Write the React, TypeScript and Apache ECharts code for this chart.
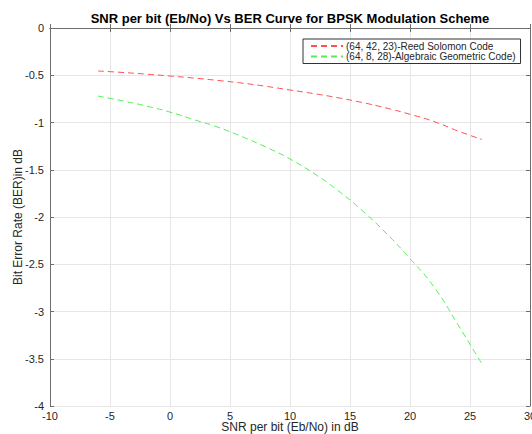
import React, { useEffect, useRef } from "react";
import * as echarts from "echarts";

const snrValues = [-6, -4, -2, 0, 2, 4, 6, 8, 10, 12, 14, 16, 18, 20, 22, 24, 26];
const reedSolomon = [-0.455, -0.47, -0.488, -0.508, -0.53, -0.555, -0.583, -0.617, -0.656, -0.695, -0.738, -0.788, -0.846, -0.913, -0.99, -1.09, -1.18];
const algebraicGeometric = [-0.72, -0.77, -0.825, -0.89, -0.97, -1.05, -1.15, -1.26, -1.386, -1.54, -1.72, -1.93, -2.17, -2.44, -2.74, -3.14, -3.556];
const seriesNames = ["(64, 42, 23)-Reed Solomon Code", "(64, 8, 28)-Algebraic Geometric Code)"];

const FONT = "'Liberation Sans', Arial, Helvetica, sans-serif";
const AXIS_COLOR = "#6e6e6e";
const TEXT_COLOR = "#262626";

export default function App() {
  const ref = useRef<HTMLDivElement>(null);
  useEffect(() => {
    if (!ref.current) return;
    const chart = echarts.init(ref.current, undefined, { renderer: "svg" });
    const pair = (ys: number[]) => snrValues.map((x, i) => [x, ys[i]]);
    chart.setOption({
      animation: false,
      textStyle: { fontFamily: FONT },
      title: {
        text: "SNR per bit (Eb/No) Vs BER Curve for BPSK Modulation Scheme",
        left: 290,
        textAlign: "center",
        top: 12,
        padding: 0,
        textStyle: { fontSize: 13, fontWeight: "bold", color: "#000", fontFamily: FONT },
      },
      legend: {
        orient: "vertical",
        left: 303,
        top: 39,
        width: 216,
        padding: [2, 5, 2, 7],
        itemGap: 0.5,
        itemWidth: 32,
        itemHeight: 10,
        borderColor: "#333",
        borderWidth: 1,
        backgroundColor: "#fff",
        itemStyle: { opacity: 0, borderWidth: 0 },
        lineStyle: { inherit: true },
        textStyle: { fontSize: 10, color: TEXT_COLOR, fontFamily: FONT, padding: [0, 0, 0, -2] },
        data: seriesNames,
      },
      grid: { left: 50, right: 2, top: 28, bottom: 28, containLabel: false, outerBoundsMode: "none" },
      xAxis: [
        {
          type: "value",
          min: -10,
          max: 30,
          interval: 5,
          name: "SNR per bit (Eb/No) in dB",
          nameLocation: "middle",
          nameGap: 15,
          nameMoveOverlap: false,
          nameTextStyle: { fontSize: 12, color: TEXT_COLOR },
          axisLine: { lineStyle: { color: AXIS_COLOR } },
          axisTick: { inside: true, length: 4, lineStyle: { color: AXIS_COLOR } },
          axisLabel: { fontSize: 11, color: TEXT_COLOR, margin: 4 },
          splitLine: { show: true, lineStyle: { color: "#e6e6e6" } },
        },
        {
          type: "value",
          position: "top",
          min: -10,
          max: 30,
          interval: 5,
          axisLine: { show: true, onZero: false, lineStyle: { color: AXIS_COLOR } },
          axisTick: { show: true, inside: true, length: 4, lineStyle: { color: AXIS_COLOR } },
          axisLabel: { show: false },
          splitLine: { show: false },
        },
      ],
      yAxis: [
        {
          type: "value",
          min: -4,
          max: 0,
          interval: 0.5,
          name: "Bit Error Rate (BER)in dB",
          nameLocation: "middle",
          nameGap: 26,
          nameMoveOverlap: false,
          nameTextStyle: { fontSize: 12, color: TEXT_COLOR },
          axisLine: { show: true, onZero: false, lineStyle: { color: AXIS_COLOR } },
          axisTick: { show: true, inside: true, length: 4, lineStyle: { color: AXIS_COLOR } },
          axisLabel: { fontSize: 11, color: TEXT_COLOR, margin: 6 },
          splitLine: { show: true, lineStyle: { color: "#e6e6e6" } },
        },
        {
          type: "value",
          position: "right",
          min: -4,
          max: 0,
          interval: 0.5,
          axisLine: { show: true, onZero: false, lineStyle: { color: AXIS_COLOR } },
          axisTick: { show: true, inside: true, length: 4, lineStyle: { color: AXIS_COLOR } },
          axisLabel: { show: false },
          splitLine: { show: false },
        },
      ],
      series: [
        {
          name: seriesNames[0],
          type: "line",
          data: pair(reedSolomon),
          smooth: true,
          symbol: "none",
          lineStyle: { color: "#ff5050", width: 1, type: [6, 4] },
          itemStyle: { color: "#ff5050" },
        },
        {
          name: seriesNames[1],
          type: "line",
          data: pair(algebraicGeometric),
          smooth: true,
          symbol: "none",
          lineStyle: { color: "#55ee55", width: 1, type: [6, 4] },
          itemStyle: { color: "#55ee55" },
        },
      ],
    });
    return () => chart.dispose();
  }, []);
  return (
    <div
      ref={ref}
      style={{ position: "fixed", left: 0, top: 0, width: 532, height: 434, background: "#fff" }}
    />
  );
}
